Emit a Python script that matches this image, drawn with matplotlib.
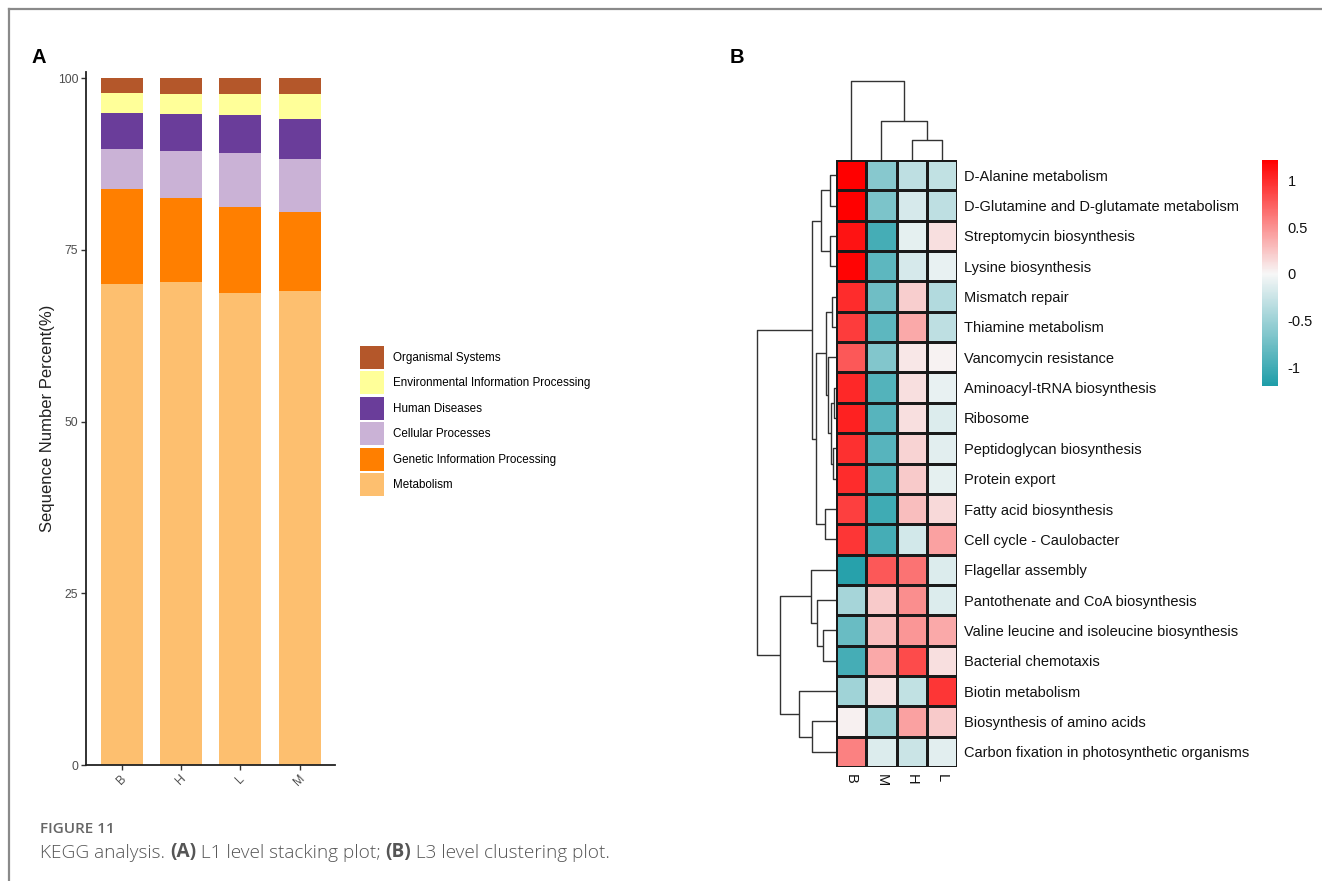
import matplotlib
matplotlib.use("Agg")
import matplotlib.pyplot as plt
import numpy as np
from matplotlib.colors import LinearSegmentedColormap, Normalize
from matplotlib.cm import ScalarMappable
from matplotlib.lines import Line2D
from matplotlib.patches import Patch

plt.rcParams["font.family"] = ["Liberation Sans", "DejaVu Sans"]

# ---- panel A: L1 stacked percentages ----
samples = ["B", "H", "L", "M"]
metabolism = [70.0, 70.3, 68.7, 69.0]
genetic = [13.8, 12.2, 12.5, 11.5]
cellular = [5.9, 6.9, 7.9, 7.7]
human = [5.3, 5.4, 5.5, 5.8]
environmental = [2.8, 2.9, 3.1, 3.7]
organismal = [2.2, 2.3, 2.3, 2.3]

l1_names = ["Metabolism", "Genetic Information Processing", "Cellular Processes",
            "Human Diseases", "Environmental Information Processing", "Organismal Systems"]
l1_colors = ["#FDBF6F", "#FF7F00", "#CAB2D6", "#6A3D9A", "#FFFF99", "#B4572A"]

# ---- panel B: L3 heatmap (z-scores), columns in dendrogram order ----
hm_cols = ["B", "M", "H", "L"]
pathways = [
    "D-Alanine metabolism", "D-Glutamine and D-glutamate metabolism",
    "Streptomycin biosynthesis", "Lysine biosynthesis", "Mismatch repair",
    "Thiamine metabolism", "Vancomycin resistance", "Aminoacyl-tRNA biosynthesis",
    "Ribosome", "Peptidoglycan biosynthesis", "Protein export",
    "Fatty acid biosynthesis", "Cell cycle - Caulobacter", "Flagellar assembly",
    "Pantothenate and CoA biosynthesis", "Valine leucine and isoleucine biosynthesis",
    "Bacterial chemotaxis", "Biotin metabolism", "Biosynthesis of amino acids",
    "Carbon fixation in photosynthetic organisms",
]
vals_B = [1.22, 1.22, 1.12, 1.2, 1.0, 0.92, 0.78, 1.02, 1.05, 0.98, 1.0, 0.9, 0.95,
          -1.15, -0.45, -0.78, -0.98, -0.48, 0.03, 0.58]
vals_M = [-0.62, -0.68, -0.98, -0.85, -0.75, -0.85, -0.65, -0.9, -0.88, -0.88, -0.92,
          -1.02, -0.98, 0.78, 0.22, 0.28, 0.38, 0.1, -0.5, -0.15]
vals_H = [-0.32, -0.18, -0.1, -0.18, 0.2, 0.38, 0.08, 0.12, 0.12, 0.18, 0.22, 0.28,
          -0.2, 0.65, 0.52, 0.48, 0.85, -0.3, 0.42, -0.25]
vals_L = [-0.3, -0.32, 0.12, -0.08, -0.38, -0.32, 0.02, -0.08, -0.15, -0.12, -0.1,
          0.15, 0.42, -0.15, -0.15, 0.38, 0.12, 0.95, 0.22, -0.12]

# linkage rows: (child a, child b, height); ids >= n are earlier merges
row_links = [(0, 1, 6), (2, 3, 6), (20, 21, 15), (4, 5, 4), (7, 8, 2), (9, 10, 3),
             (24, 25, 5), (6, 26, 8), (23, 27, 10), (11, 12, 11), (28, 29, 20),
             (22, 30, 24), (15, 16, 13), (14, 32, 19), (13, 33, 25), (18, 19, 24),
             (17, 35, 37), (34, 36, 56), (31, 37, 79)]
col_links = [(2, 3, 20), (1, 4, 39), (0, 5, 79)]

W, H = 1322, 881
fig = plt.figure(figsize=(W / 100, H / 100), dpi=100)


def px_axes(x0, y0, x1, y1):
    return fig.add_axes([x0 / W, 1 - y1 / H, (x1 - x0) / W, (y1 - y0) / H])


# frame lines of the figure page
fig.add_artist(Line2D([9 / W, 9 / W], [0, 1 - 9 / H], color="#8a8a8a", lw=1.6))
fig.add_artist(Line2D([9 / W, 1], [1 - 9 / H, 1 - 9 / H], color="#8a8a8a", lw=1.6))

# ---------------- panel A ----------------
ax = px_axes(86, 72, 335, 765)
x = np.arange(1, len(samples) + 1)
bottom = np.zeros(len(samples))
for name, vals, col in zip(l1_names, [metabolism, genetic, cellular, human,
                                      environmental, organismal], l1_colors):
    ax.bar(x, vals, bottom=bottom, width=0.71, color=col, label=name)
    bottom += np.asarray(vals)
ax.set_xlim(0.39, 4.6)
ax.set_ylim(0, 100.9)
ax.set_yticks([0, 25, 50, 75, 100])
ax.set_xticks(x)
ax.set_xticklabels(samples, rotation=45, ha="center", va="top")
for s in ["top", "right"]:
    ax.spines[s].set_visible(False)
for s in ["left", "bottom"]:
    ax.spines[s].set_linewidth(1.3)
    ax.spines[s].set_color("#222222")
ax.tick_params(length=3.5, width=1, color="#333333", labelsize=8.8,
               labelcolor="#4D4D4D", pad=2)
ax.set_ylabel("Sequence Number Percent(%)", fontsize=12, color="#222222")
ax.yaxis.set_label_coords(-0.125, 0.5)

handles = [Patch(facecolor=c, label=n) for n, c in zip(l1_names, l1_colors)][::-1]
fig.legend(handles=handles, loc="upper left", bbox_to_anchor=(360 / W, 1 - 346 / H),
           frameon=False, fontsize=8.4, borderpad=0, borderaxespad=0,
           handlelength=2.05, handleheight=2.6, labelspacing=0.25, handletextpad=0.75)

fig.text(32 / W, 1 - 63 / H, "A", fontsize=14.5, fontweight="bold", va="baseline")
fig.text(730 / W, 1 - 63 / H, "B", fontsize=14.5, fontweight="bold", va="baseline")

# ---------------- panel B ----------------
cmap = LinearSegmentedColormap.from_list(
    "tealred", [(0.0, "#1E9DA8"), (0.496, "#F7F7F7"), (1.0, "#FF0000")])
norm = Normalize(vmin=-1.2, vmax=1.22)

Z = np.column_stack([vals_B, vals_M, vals_H, vals_L])
hx = px_axes(836, 160, 957, 767)
hx.pcolormesh(np.arange(Z.shape[1] + 1), np.arange(Z.shape[0] + 1), Z, cmap=cmap,
              norm=norm, edgecolors="#1a1a1a", linewidth=0.9)
hx.set_xlim(0, Z.shape[1])
hx.set_ylim(Z.shape[0], 0)
hx.yaxis.tick_right()
hx.set_yticks(np.arange(Z.shape[0]) + 0.5)
hx.set_yticklabels(pathways, fontsize=10.5, color="#111111")
hx.set_xticks(np.arange(Z.shape[1]) + 0.5)
hx.set_xticklabels(hm_cols, rotation=270, fontsize=10.5, color="#111111")
hx.tick_params(length=0, pad=5)
for s in hx.spines.values():
    s.set_visible(False)


def dendro_segments(links, n):
    pos = {i: i + 0.5 for i in range(n)}
    hgt = {i: 0.0 for i in range(n)}
    segs = []
    for k, (a, b, h) in enumerate(links):
        pa, pb = pos[a], pos[b]
        segs.append(([pa, pa, pb, pb], [hgt[a], h, h, hgt[b]]))
        pos[n + k] = (pa + pb) / 2
        hgt[n + k] = h
    return segs


# row dendrogram (left)
rd = px_axes(750, 160, 836, 767)
for p, h in dendro_segments(row_links, len(pathways)):
    rd.plot(h, p, color="#333333", lw=1.0, solid_capstyle="butt")
rd.set_xlim(86, 0)
rd.set_ylim(len(pathways), 0)
rd.axis("off")

# column dendrogram (top)
cd = px_axes(836, 78, 957, 160)
for p, h in dendro_segments(col_links, len(hm_cols)):
    cd.plot(p, h, color="#333333", lw=1.0, solid_capstyle="butt")
cd.set_xlim(0, len(hm_cols))
cd.set_ylim(0, 82)
cd.axis("off")

# colour bar
cax = px_axes(1262, 160, 1278, 386)
cb = fig.colorbar(ScalarMappable(norm=norm, cmap=cmap), cax=cax)
cb.set_ticks([-1, -0.5, 0, 0.5, 1])
cb.set_ticklabels(["-1", "-0.5", "0", "0.5", "1"])
cb.outline.set_visible(False)
cax.tick_params(length=0, labelsize=10.5, pad=7, labelcolor="#111111")

# ---------------- caption ----------------
cap_font = ["Open Sans", "DejaVu Sans"]
fig.text(40 / W, 1 - 833 / H, "FIGURE 11", fontsize=11, color="#666666",
         family=cap_font, fontweight="semibold", va="baseline")
pieces = [("KEGG analysis. ", "light"), ("(A)", "bold"), (" L1 level stacking plot; ", "light"),
          ("(B)", "bold"), (" L3 level clustering plot.", "light")]
last = fig.text(40 / W, 1 - 858 / H, pieces[0][0], fontsize=13.7, color="#555555",
                family=cap_font, fontweight=pieces[0][1], va="baseline")
for txt, wt in pieces[1:]:
    last = ax.annotate(txt, xy=(1, 0), xycoords=last, xytext=(0, 0),
                       textcoords="offset points", fontsize=13.7, color="#555555",
                       family=cap_font, fontweight=wt, va="bottom", ha="left",
                       annotation_clip=False)

fig.savefig("out.png", dpi=100)
